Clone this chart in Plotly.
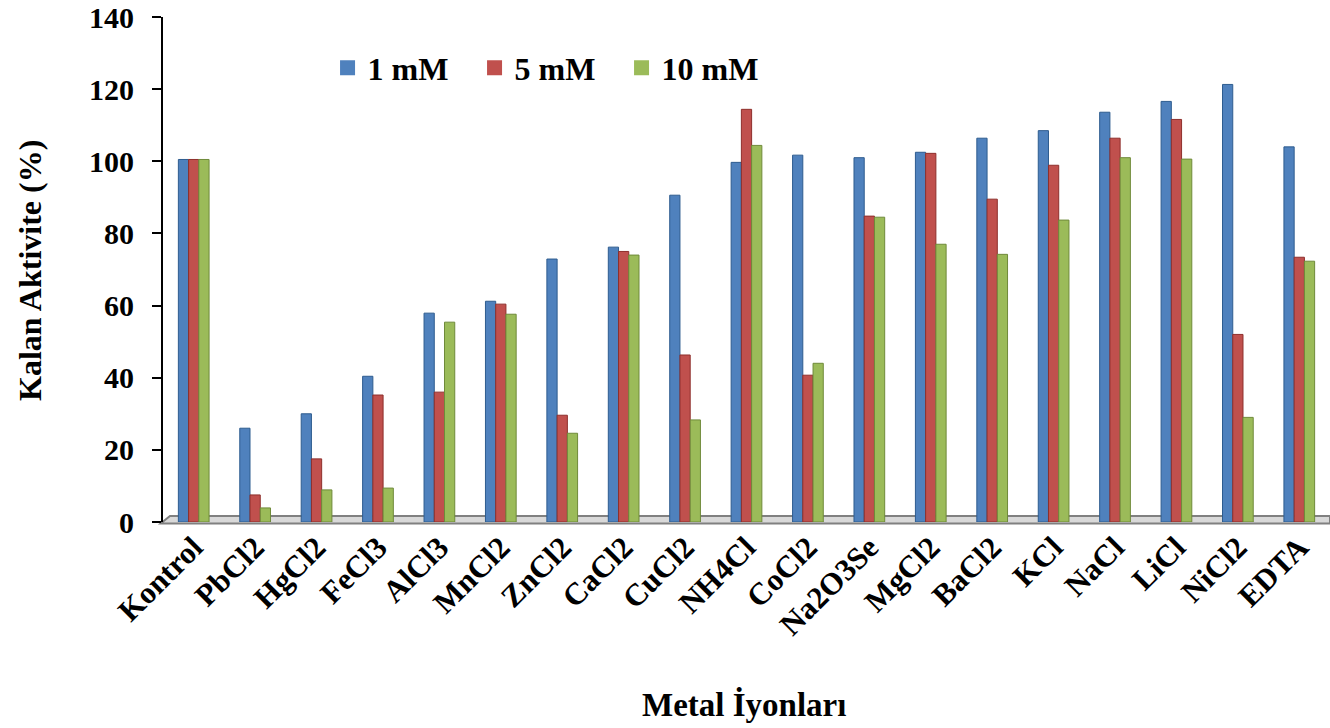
import plotly.graph_objects as go

categories = ["Kontrol", "PbCl2", "HgCl2", "FeCl3", "AlCl3", "MnCl2", "ZnCl2", "CaCl2",
              "CuCl2", "NH4Cl", "CoCl2", "Na2O3Se", "MgCl2", "BaCl2", "KCl", "NaCl",
              "LiCl", "NiCl2", "EDTA"]
series_names = ["1 mM", "5 mM", "10 mM"]
vals_1mM = [100.5, 26, 30, 40.4, 57.9, 61.2, 72.9, 76.2, 90.6, 99.7, 101.7, 101, 102.5,
            106.4, 108.5, 113.6, 116.6, 121.3, 104]
vals_5mM = [100.5, 7.5, 17.5, 35.2, 36, 60.4, 29.6, 75, 46.3, 114.4, 40.7, 84.8, 102.2,
            89.5, 98.9, 106.4, 111.6, 52, 73.4]
vals_10mM = [100.5, 3.9, 8.9, 9.4, 55.4, 57.6, 24.6, 74, 28.3, 104.4, 44, 84.5, 77,
             74.2, 83.7, 101, 100.6, 29, 72.3]
y_ticks = [0, 20, 40, 60, 80, 100, 120, 140]

colors = ["#4F81BD", "#C0504D", "#9BBB59"]
edge = ["#2E5C8F", "#8E2F2C", "#6F8A3A"]
FONT = "Liberation Serif, Times New Roman, serif"

fig = go.Figure()
for name, vals, c, e in zip(series_names, [vals_1mM, vals_5mM, vals_10mM], colors, edge):
    fig.add_trace(go.Bar(x=categories, y=vals, name=name, showlegend=False,
                         marker=dict(color=c, line=dict(color=e, width=1))))
# legend entries with larger square swatches
for name, c in zip(series_names, colors):
    fig.add_trace(go.Scatter(x=[categories[0]], y=[None], mode="markers", name=name,
                             marker=dict(symbol="square", size=15, color=c),
                             showlegend=True, hoverinfo="skip"))

# 3D-like floor slab
fig.add_shape(type="path", xref="paper", yref="paper", layer="below",
              path="M 0.006 0.012 L 1 0.012 L 1 -0.003 L -0.002 -0.003 Z",
              fillcolor="#D9D9D9", line=dict(color="#808080", width=2))

fig.update_layout(
    width=1330, height=728,
    margin=dict(l=163, r=0, t=17, b=206),
    paper_bgcolor="white", plot_bgcolor="white",
    barmode="group", bargap=0.5, bargroupgap=0,
    font=dict(family=FONT, color="black", size=30),
    showlegend=True,
    legend=dict(orientation="h", x=0.141, y=0.899, xanchor="left", yanchor="middle",
                font=dict(family=FONT, size=32, color="black", weight="bold"),
                entrywidth=102, entrywidthmode="pixels", bgcolor="rgba(0,0,0,0)",
                itemsizing="trace", traceorder="normal", itemwidth=30),
    xaxis=dict(type="category", showgrid=False, showline=False, ticks="",
               tickangle=-45, range=[-0.5, len(categories) - 0.5], autorange=False,
               tickfont=dict(family=FONT, size=31, color="black", weight="bold")),
    yaxis=dict(range=[0, 140], tickvals=y_ticks, showgrid=False, showline=True,
               linecolor="black", linewidth=2, ticks="outside", ticklen=9,
               tickwidth=2, tickcolor="black", zeroline=False, ticklabelstandoff=12,
               tickfont=dict(family=FONT, size=30, color="black", weight="bold")),
    annotations=[
        dict(text="<b>Metal İyonları</b>", xref="paper", yref="paper", x=0.498, y=-0.362,
             showarrow=False, xanchor="center", yanchor="middle",
             font=dict(family=FONT, size=33, color="black")),
        dict(text="<b>Kalan Aktivite (%)</b>", xref="paper", yref="paper", x=-0.114, y=0.499,
             showarrow=False, xanchor="center", yanchor="middle", textangle=-90,
             font=dict(family=FONT, size=32, color="black")),
    ],
)

fig.write_html("out.html")
